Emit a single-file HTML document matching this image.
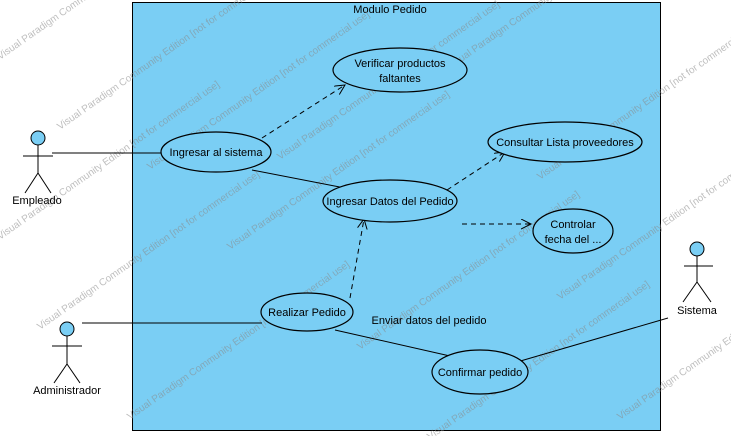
<!DOCTYPE html>
<html><head><style>
html,body{margin:0;padding:0;background:#fff;width:731px;height:436px;overflow:hidden}
text{font-family:"Liberation Sans",sans-serif}
</style></head><body>
<svg width="731" height="436" xmlns="http://www.w3.org/2000/svg">
<defs>
<marker id="a" markerWidth="12" markerHeight="12" refX="10" refY="5" orient="auto" markerUnits="userSpaceOnUse">
<path d="M0,0 L10,5 L0,10" fill="none" stroke="#000" stroke-width="1"/></marker>
</defs>
<rect x="132.5" y="2.5" width="528" height="428" fill="#7acef4" stroke="#000"/>
<text x="390" y="13" font-size="11" text-anchor="middle">Modulo Pedido</text>
<g fill="none" stroke="#9a9a9a" opacity="0">
</g>
<g font-size="10" fill="#8a8a8a" opacity="0.55">
<text transform="translate(0,60) rotate(-35)">Visual Paradigm Community Edition [not for commercial use]</text>
<text transform="translate(60,130) rotate(-35)">Visual Paradigm Community Edition [not for commercial use]</text>
<text transform="translate(150,170) rotate(-35)">Visual Paradigm Community Edition [not for commercial use]</text>
<text transform="translate(0,240) rotate(-35)">Visual Paradigm Community Edition [not for commercial use]</text>
<text transform="translate(230,250) rotate(-35)">Visual Paradigm Community Edition [not for commercial use]</text>
<text transform="translate(40,330) rotate(-35)">Visual Paradigm Community Edition [not for commercial use]</text>
<text transform="translate(130,420) rotate(-35)">Visual Paradigm Community Edition [not for commercial use]</text>
<text transform="translate(360,350) rotate(-35)">Visual Paradigm Community Edition [not for commercial use]</text>
<text transform="translate(280,160) rotate(-35)">Visual Paradigm Community Edition [not for commercial use]</text>
<text transform="translate(450,70) rotate(-35)">Visual Paradigm Community Edition [not for commercial use]</text>
<text transform="translate(540,180) rotate(-35)">Visual Paradigm Community Edition [not for commercial use]</text>
<text transform="translate(560,300) rotate(-35)">Visual Paradigm Community Edition [not for commercial use]</text>
<text transform="translate(430,440) rotate(-35)">Visual Paradigm Community Edition [not for commercial use]</text>
<text transform="translate(620,420) rotate(-35)">Visual Paradigm Community Edition [not for commercial use]</text>
</g>
<g stroke="#000" stroke-width="1" fill="none">
<line x1="52" y1="153" x2="161" y2="153"/>
<line x1="252" y1="170" x2="350" y2="189"/>
<line x1="82" y1="323" x2="262" y2="323"/>
<line x1="335" y1="330" x2="450" y2="356"/>
<line x1="517" y1="362" x2="668" y2="318"/>
<g stroke-dasharray="5,4" marker-end="url(#a)">
<line x1="262" y1="138" x2="345" y2="85"/>
<line x1="447" y1="190" x2="505" y2="152"/>
<line x1="462" y1="224" x2="531" y2="224"/>
<line x1="350" y1="298" x2="364" y2="219"/>
</g>
</g>
<g fill="#7acef4" stroke="#000" stroke-width="1.2">
<ellipse cx="400" cy="70" rx="67" ry="22"/>
<ellipse cx="216" cy="152" rx="55" ry="20"/>
<ellipse cx="565" cy="142" rx="77" ry="20"/>
<ellipse cx="390" cy="201" rx="67" ry="21"/>
<ellipse cx="573" cy="231" rx="40" ry="22"/>
<ellipse cx="307" cy="312" rx="46" ry="19"/>
<ellipse cx="480" cy="372" rx="48" ry="22"/>
</g>
<g font-size="11" text-anchor="middle" fill="#000">
<text x="400" y="67">Verificar productos</text>
<text x="400" y="82">faltantes</text>
<text x="216" y="156">Ingresar al sistema</text>
<text x="565" y="146">Consultar Lista proveedores</text>
<text x="390" y="205">Ingresar Datos del Pedido</text>
<text x="573" y="228">Controlar</text>
<text x="573" y="243">fecha del ...</text>
<text x="307" y="316">Realizar Pedido</text>
<text x="480" y="376">Confirmar pedido</text>
<text x="429" y="324">Enviar datos del pedido</text>
<text x="37" y="204">Empleado</text>
<text x="67" y="394">Administrador</text>
<text x="697" y="314">Sistema</text>
</g>
<g stroke="#000" fill="none">
<circle cx="38" cy="138" r="7" fill="#7acef4"/>
<line x1="38" y1="145" x2="38" y2="173"/><line x1="23" y1="156" x2="53" y2="156"/>
<line x1="38" y1="173" x2="25" y2="193"/><line x1="38" y1="173" x2="51" y2="193"/>
<circle cx="67" cy="329" r="7" fill="#7acef4"/>
<line x1="67" y1="336" x2="67" y2="364"/><line x1="52" y1="346" x2="82" y2="346"/>
<line x1="67" y1="364" x2="54" y2="383"/><line x1="67" y1="364" x2="80" y2="383"/>
<circle cx="697" cy="249" r="7" fill="#7acef4"/>
<line x1="697" y1="256" x2="697" y2="282"/><line x1="684" y1="266" x2="713" y2="266"/>
<line x1="697" y1="282" x2="683" y2="302"/><line x1="697" y1="282" x2="711" y2="302"/>
</g>
</svg>
</body></html>
